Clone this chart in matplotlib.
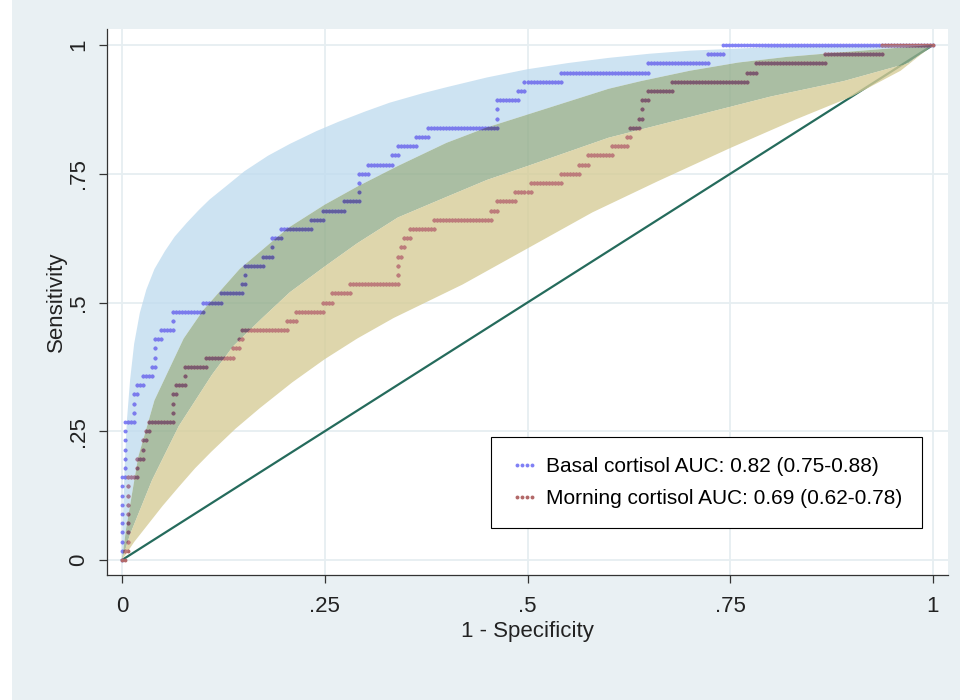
import numpy as np
import matplotlib
matplotlib.use('Agg')
import matplotlib.pyplot as plt
from matplotlib.patches import Rectangle

plt.rcParams['font.family'] = ['Liberation Sans', 'DejaVu Sans']

# ROC data: number of false positives seen before each true positive is reached
n_pos = 56
n_neg = 270
basal_fp = [0, 0, 0, 0, 0, 0, 0, 0, 0, 1, 1, 1, 1, 1, 1, 4, 4, 4, 5, 7,
            10, 11, 11, 11, 13, 17, 17, 27, 33, 40, 41, 41, 47, 50, 50, 53, 63, 67, 74, 79,
            79, 79, 82, 90, 92, 98, 102, 125, 125, 125, 132, 134, 146, 175, 195, 200]
morning_fp = [1, 2, 2, 2, 2, 2, 2, 2, 2, 5, 5, 7, 7, 8, 9, 17, 17, 17, 18, 21,
              21, 28, 37, 39, 40, 55, 58, 67, 70, 76, 92, 92, 92, 93, 94, 96, 104, 123, 125, 131,
              136, 146, 152, 155, 163, 168, 169, 172, 173, 173, 175, 183, 208, 211, 234, 253]

# confidence bands
basal_hi_x = [0, .001, .003, .006, .010, .015, .022, .03, .04, .053, .065, .08, .095, .108, .13, .151, .18,
              .207, .24, .267, .30, .33, .37, .40, .45, .50, .55, .60, .65, .70, .80, .90, 1]
basal_hi_y = [0, .07, .17, .27, .35, .42, .48, .525, .565, .60, .628, .655, .68, .70, .728, .755, .785,
              .808, .833, .851, .871, .888, .906, .918, .937, .953, .965, .975, .983, .989, .996, .999, 1]
basal_lo_x = [0, .01, .037, .07, .111, .137, .173, .207, .25, .29, .34, .40, .45, .50, .60, .70, .80, .89, .97, 1]
basal_lo_y = [0, .05, .155, .26, .36, .415, .47, .52, .57, .615, .665, .705, .738, .765, .82, .86, .90, .93, .965, 1]
morning_hi_x = [0, .005, .02, .04, .076, .10, .145, .205, .25, .29, .34, .40, .45, .50, .54, .60, .64, .70, .76, .82, .88, .96, 1]
morning_hi_y = [0, .06, .20, .31, .43, .485, .565, .645, .69, .725, .765, .81, .84, .865, .885, .915, .93, .95, .966, .977, .985, .995, 1]
morning_lo_x = [0, .015, .03, .05, .07, .09, .11, .14, .17, .21, .25, .29, .335, .42, .50, .58, .66, .75, .83, .90, .96, 1]
morning_lo_y = [0, .035, .065, .105, .142, .178, .21, .255, .295, .345, .39, .43, .47, .535, .605, .675, .735, .80, .855, .90, .95, 1]

labels = ['Basal cortisol AUC: 0.82 (0.75-0.88)', 'Morning cortisol AUC: 0.69 (0.62-0.78)']
ticks = [0, .25, .5, .75, 1]
tick_labels = ['0', '.25', '.5', '.75', '1']


def roc_points(fp_steps):
    fx, ty = [0], [0]
    cur = 0
    for k, f in enumerate(fp_steps, start=1):
        while cur < f:
            cur += 1
            fx.append(cur)
            ty.append(k - 1)
        fx.append(cur)
        ty.append(k)
    while cur < n_neg:
        cur += 1
        fx.append(cur)
        ty.append(n_pos)
    return np.array(fx) / n_neg, np.array(ty) / n_pos


def band(ux, uy, lx, ly):
    return list(ux) + list(lx[::-1]), list(uy) + list(ly[::-1])


fig = plt.figure(figsize=(9.74, 7), dpi=100, facecolor='white')
fig.patches.append(Rectangle((12 / 974, 0), 948 / 974, 1, transform=fig.transFigure,
                             facecolor='#e9f0f3', edgecolor='none', zorder=-10))
ax = fig.add_axes([107 / 974, 1 - 575 / 700, 841 / 974, 546 / 700])
ax.set_facecolor('white')

ax.set_xlim(-0.0185, 1.0185)
ax.set_ylim(-0.0291, 1.0311)
ax.set_xticks(ticks)
ax.set_xticklabels(tick_labels)
ax.set_yticks(ticks)
ax.set_yticklabels(tick_labels, rotation=90, va='center')
ax.grid(True, color='#e6eef1', linewidth=1.3, zorder=0)
ax.set_axisbelow(True)

# reference line
ax.plot([0, 1], [0, 1], color='#256b5c', linewidth=1.6, zorder=2)

# three band regions: blue only, overlap, yellow only
bx, by = band(basal_hi_x, basal_hi_y, morning_hi_x, morning_hi_y)
gx, gy = band(morning_hi_x, morning_hi_y, basal_lo_x, basal_lo_y)
yx, yy = band(basal_lo_x, basal_lo_y, morning_lo_x, morning_lo_y)
blue_poly = ax.fill(bx, by, color='#c1dcef', alpha=0.8, lw=0, zorder=3)[0]
green_poly = ax.fill(gx, gy, color='#95ae8c', alpha=0.8, lw=0, zorder=3)[0]
yellow_poly = ax.fill(yx, yy, color='#d6cc97', alpha=0.8, lw=0, zorder=3)[0]

curves = [
    (basal_fp, ['#8080f5', '#7b7bec', '#625e9d', '#8a7aa0']),
    (morning_fp, ['#b26868', '#a07a98', '#7a5a70', '#bd7c7c']),
]
handles = []
for (fp, cols), lab in zip(curves, labels):
    xs, ys = roc_points(fp)
    base, = ax.plot(xs, ys, 'o', ms=2.8, mew=0, color=cols[0], zorder=5, label=lab)
    handles.append(base)
    for clip, col in zip([blue_poly, green_poly, yellow_poly], cols[1:]):
        ln, = ax.plot(xs, ys, 'o', ms=2.8, mew=0, color=col, zorder=5)
        ln.set_clip_path(clip)

for s in ['top', 'right']:
    ax.spines[s].set_visible(False)
for s in ['left', 'bottom']:
    ax.spines[s].set_color('#333333')
    ax.spines[s].set_linewidth(0.9)
ax.tick_params(axis='both', direction='out', length=5.8, width=0.9, color='#333333',
               labelsize=16, labelcolor='#222222')
ax.tick_params(axis='x', pad=9.5)
ax.tick_params(axis='y', pad=7)

ax.set_xlabel('1 - Specificity', fontsize=16, color='#222222', labelpad=3)
ax.set_ylabel('Sensitivity', fontsize=16, color='#222222', labelpad=1)

leg = ax.legend(handles=handles, loc='lower left', bbox_to_anchor=(0.4566, 0.0861),
                borderaxespad=0, fontsize=15, numpoints=4, handlelength=1.3,
                handletextpad=0.4, labelspacing=0.62, borderpad=0.95,
                fancybox=False, framealpha=1, edgecolor='black')
leg.get_frame().set_linewidth(0.8)

fig.savefig('out.png', dpi=100, facecolor=fig.get_facecolor())
